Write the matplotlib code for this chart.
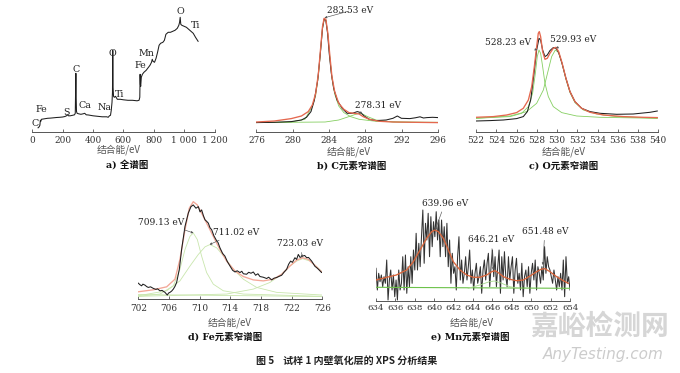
import numpy as np
import matplotlib
matplotlib.use("Agg")
import matplotlib.pyplot as plt

W, H = 680, 373

# ---------------- data ----------------
# a) survey spectrum
survey_ev = [38, 45, 50, 53, 56, 60, 80, 100, 120, 140, 160, 180, 200, 215, 225, 232, 238, 250, 265, 278,
             283, 285, 287, 289, 291, 295, 305, 320, 335, 345, 355, 370, 400, 430, 460, 490, 500, 508, 515,
             520, 525, 528, 530, 532, 535, 540, 548, 560, 580, 600, 630, 660, 690, 703, 708, 710, 712, 714,
             718, 725, 735, 750, 765, 775, 785, 790, 795, 805, 815, 825, 835, 845, 860, 870, 880, 895, 910,
             925, 940, 955, 965, 970, 974, 978, 985, 1000, 1015, 1030, 1045, 1060, 1075, 1092]
survey_int = [4.5, 5.5, 7, 12, 11, 13, 13.5, 14, 14.2, 14.5, 14.8, 15, 15.3, 15.8, 16.5, 17.5, 16.5, 16.5, 17, 17.5,
              19, 40, 59, 35, 21, 19, 18.5, 18, 18.5, 19, 17.5, 17.3, 16.5, 16, 15.5, 15.5, 15, 16.5, 17,
              22, 30, 40, 82, 45, 36, 35, 36, 33, 33, 32.5, 32, 32, 31.5, 32, 35, 58, 48, 46,
              55, 58, 60, 62, 65, 67, 70, 73, 71, 70, 74, 80, 87, 89, 90, 92, 98, 100, 100,
              101, 102, 104, 107, 110, 115, 108, 107, 106, 105, 103, 101, 99, 95, 91]
survey_ticks = [0, 200, 400, 600, 800, 1000, 1200]
survey_ticklabels = ["0", "200", "400", "600", "800", "1 000", "1 200"]
survey_labels = ["C", "Fe", "S", "C", "Ca", "Na", "O", "Ti", "Fe", "Mn", "O", "Ti"]
survey_label_ev = [18, 62, 227, 288, 347, 479, 529, 573, 711, 753, 973, 1072]
survey_label_int = [9, 22.3, 19.6, 62.3, 27.3, 25, 79, 38, 66.3, 79, 120.6, 107.3]

# b) C 1s
c_ev = [276, 277.98, 279.84, 280.96, 281.52, 282.01, 282.38, 282.75, 283.01, 283.28, 283.46, 283.65, 283.84,
        284.02, 284.25, 284.51, 284.88, 285.44, 286.0, 286.56, 287.12, 287.49, 287.87, 288.43, 289.17, 290.29,
        291.04, 291.52, 291.97, 292.9, 293.5, 294.02, 294.4, 294.77, 295.4, 296]
c_int = [9.7, 10, 10.7, 12.3, 15, 20.7, 32, 52, 75.7, 104, 113.3, 111.7, 99, 79, 59, 44, 32.3, 24, 19, 19,
         20.7, 19.7, 16.3, 13, 11.7, 12.3, 14, 16.3, 14, 13.7, 14.5, 15.5, 14.3, 14.7, 15, 14.7]
c_fit_ev = [276, 277.98, 279.84, 280.96, 281.71, 282.16, 282.53, 282.83, 283.09, 283.28, 283.46, 283.65, 283.87,
            284.10, 284.32, 284.62, 285.07, 285.63, 286.19, 286.75, 287.31, 287.75, 288.43, 289.54, 291.04,
            293.28, 296]
c_fit_int = [10.3, 11.3, 13.7, 16.3, 20.7, 27.3, 39, 59, 86, 105.7, 114, 113, 99, 75.7, 55.7, 40.7, 29, 23,
             19.7, 19, 18.3, 15.7, 13, 11, 10.3, 10, 9.7]
c_p1_ev = [276, 279.84, 281.34, 282.16, 282.53, 282.83, 283.09, 283.28, 283.46, 283.65, 283.87, 284.10, 284.32,
           284.62, 285.07, 285.63, 286.37, 287.31, 289.17, 291.78, 296]
c_p1_int = [9.7, 10.3, 13, 26, 37, 57, 84, 104, 113, 112.3, 98, 74, 54, 38.3, 26.3, 19.7, 15.7, 13, 11, 10.3, 10]
c_p2_ev = [276, 283.57, 285.07, 286.19, 286.93, 287.31, 287.68, 288.24, 289.17, 291.04, 293.28, 296]
c_p2_int = [9.7, 10.3, 12.3, 15.7, 18, 19, 18.3, 15.7, 12.3, 10.3, 10, 9.7]
c_ticks = [276, 280, 284, 288, 292, 296]
c_peaks = ["283.53 eV", "278.31 eV"]

# c) O 1s
o_ev = [522, 523.38, 524.7, 526.01, 526.67, 527.07, 527.4, 527.73, 527.99, 528.22, 528.38, 528.58, 528.81,
        529.04, 529.3, 529.63, 529.9, 530.16, 530.49, 530.88, 531.28, 531.77, 532.43, 533.25, 534.24, 535.89,
        537.53, 539.18, 539.9]
o_int = [11.3, 11.7, 12.3, 13.7, 15.7, 20.7, 32.3, 59, 82.3, 94, 92.3, 82.3, 75.7, 77.3, 81.7, 84.7, 84, 79.7,
         69, 54, 40.7, 30.7, 24, 20.7, 19, 18, 18.3, 20, 21.3]
o_fit_ev = [522, 523.71, 525.03, 526.01, 526.67, 527.17, 527.5, 527.76, 527.99, 528.15, 528.25, 528.38, 528.58,
            528.81, 529.04, 529.3, 529.63, 529.9, 530.16, 530.49, 530.88, 531.28, 531.77, 532.43, 533.25,
            534.57, 536.54, 538.52, 539.9]
o_fit_int = [15, 15.7, 17.3, 19.7, 24, 32.3, 45.7, 65.7, 85.7, 99, 100.7, 95.7, 80.7, 73, 74, 79, 84, 85, 80.7,
             69.7, 54, 40.7, 30.7, 24, 20, 17.3, 15.7, 15, 14.7]
o_p1_ev = [522, 525.36, 526.51, 527.17, 527.59, 527.86, 528.05, 528.22, 528.38, 528.58, 528.81, 529.14, 529.63,
           530.46, 531.94, 534.24, 539.9]
o_p1_int = [14, 15.7, 19, 25.7, 39, 59, 75.7, 82.3, 79, 65.7, 49, 35.7, 25.7, 19.7, 16.3, 15, 14]
o_p2_ev = [522, 525.36, 527.0, 527.99, 528.65, 529.14, 529.47, 529.83, 530.16, 530.49, 530.88, 531.28, 531.77,
           532.6, 533.91, 535.89, 539.9]
o_p2_int = [14, 16.3, 20.7, 29, 42.3, 62.3, 75.7, 82.3, 79.7, 69, 53, 39.7, 29.7, 22.3, 18.3, 15.7, 14]
o_ticks = [522, 524, 526, 528, 530, 532, 534, 536, 538, 540]
o_peaks = ["528.23 eV", "529.93 eV"]

# d) Fe 2p
fe_ev = [702, 702.2, 702.43, 702.6, 702.87, 703.1, 703.3, 703.6, 703.96, 704.3, 704.5, 704.83, 705.1, 705.48,
         705.78, 705.95, 706.13, 706.35, 706.57, 706.78, 707, 707.35, 707.65, 708.09, 708.52, 708.87, 709.17,
         709.52, 709.83, 710.05, 710.26, 710.5, 710.7, 710.91, 711.13, 711.35, 711.57, 711.85, 712.13, 712.4,
         712.65, 713.0, 713.3, 713.6, 713.96, 714.3, 714.61, 714.9, 715.26, 715.5, 715.7, 716.13, 716.4, 716.7,
         717, 717.3, 717.6, 717.87, 718.3, 718.74, 719.0, 719.39, 719.7, 720.04, 720.4, 720.7, 721.0, 721.35,
         721.6, 721.87, 722.1, 722.43, 722.65, 722.87, 723.1, 723.43, 723.7, 723.96, 724.2, 724.61, 724.8,
         725.04, 725.26, 725.5, 725.91, 726]
fe_int = [16, 14.5, 13.3, 15, 14, 12.5, 11.7, 12.3, 10.7, 9.7, 10.3, 8.3, 8.7, 6.7, 4, 6, 6.7, 8, 10, 12.7,
          16.7, 30, 50, 73.3, 86.7, 93.3, 95, 91.7, 93.3, 88, 90, 84, 80, 78.5, 76.7, 72, 70, 64, 60, 57, 51.7,
          46, 43.3, 38, 33.3, 29, 27.3, 28.5, 26.7, 28, 25.5, 25, 27, 26, 27.3, 24, 25.5, 22.7, 22, 20.7, 22,
          19.3, 21, 21.7, 23, 24, 27, 30, 35, 38.3, 37, 41.7, 40, 45, 42, 43.3, 44, 41.7, 42, 38.3, 36, 33,
          31.7, 30, 26.7, 27]
fe_fit_ev = [702, 703.96, 705.7, 706.78, 707.43, 708.09, 708.65, 709.17, 709.7, 710.26, 710.91, 711.78, 712.65,
             713.52, 714.61, 715.7, 717.0, 718.3, 719.61, 720.7, 721.78, 722.65, 723.43, 724.17, 725.04, 726]
fe_fit_int = [7.3, 9.3, 12.3, 20, 40, 70, 91.7, 98.3, 95, 86.7, 76.7, 63.3, 50, 38.3, 28.3, 22.7, 19.3, 18.3,
              20, 25, 33.3, 39.3, 41.7, 40, 34, 26.7]
fe_p1_ev = [702, 704.83, 706.57, 707.43, 708.09, 708.74, 709.17, 709.7, 710.26, 710.91, 711.78, 713.09, 715.7, 726]
fe_p1_int = [2.7, 5, 13.3, 30, 50, 63.3, 66.7, 60, 43.3, 26.7, 15, 8.3, 5, 2.7]
fe_p2_ev = [702, 705.7, 707.43, 708.74, 709.83, 710.7, 711.35, 712.22, 713.3, 714.39, 715.7, 717.43, 720.04, 726]
fe_p2_int = [3.3, 8.3, 18.3, 33.3, 45, 52.7, 55, 51.7, 41.7, 30, 20, 11.7, 6.7, 4]
fe_p3_ev = [702, 713.52, 717.0, 719.17, 720.7, 721.78, 722.65, 723.43, 724.39, 725.26, 726]
fe_p3_int = [2.7, 5, 10, 16.7, 25, 33.3, 38.3, 40.7, 38.3, 32.7, 27.3]
fe_base_ev = [702, 726]
fe_base_int = [4.5, 2.5]
fe_ticks = [702, 706, 710, 714, 718, 722, 726]
fe_peaks = ["709.13 eV", "711.02 eV", "723.03 eV"]

# e) Mn 2p (noisy)
mn_int = [32.7, 11, 27.7, 19.3, 26, 14.3, 24.3, 17.7, 41, 1, 21, 31, 11, 26, 4.3, 21, 1, 31, 11, 17.7,
          44.3, 11, 46, 7.7, 34.3, 14.3, 44.3, 17.7, 51, 31, 67.7, 31, 57.7, 34.3, 64.3, 91, 37.7, 77.7, 61,
          87.7, 44.3, 84.3, 54.3, 79.3, 64.3, 89.3, 61, 81, 44.3, 81, 54.3, 74.3, 44.3, 77.7, 34.3, 61, 17.7,
          47.7, 27.7, 34.3, 11, 44.3, 64.3, 21, 41, 17.7, 27.7, 44.3, 21, 34.3, 51, 17.7, 31, 11, 27.7, 37.7,
          17.7, 24.3, 34.3, 7.7, 31, 41, 21, 37.7, 47.7, 14.3, 34.3, 51, 24.3, 44.3, 14.3, 34.3, 51, 7.7, 44.3,
          21, 49.3, 24.3, 14.3, 44.3, 21, 34.3, 44.3, 7.7, 31, 42.7, 17.7, 27.7, 11, 37.7, 4.3, 24.3, 31, 14.3,
          34.3, 7.7, 27.7, 37.7, 21, 41, 11, 34.3, 27.7, 17.7, 34.3, 21, 54.3, 27.7, 44.3, 34.3, 31, 24.3, 17.7,
          31, 21, 11, 24.3, 14.3, 27.7, 11, 41, 4.3, 44.3, 17.7, 24.3, 11]
mn_ev_start, mn_ev_end = 634, 654
mn_fit_ev = [634.0, 635.1, 636.1, 637.16, 637.85, 638.54, 639.22, 639.74, 640.08, 640.43, 640.94, 641.46, 641.97,
             642.66, 643.35, 644.04, 644.72, 645.41, 645.92, 646.27, 646.61, 647.13, 647.82, 648.5, 649.19,
             649.88, 650.56, 651.08, 651.42, 651.94, 652.62, 653.31, 653.83]
mn_fit_int = [21, 23.7, 26, 31, 39.3, 51, 62.7, 69.3, 71, 69.3, 62.7, 51, 39.3, 31, 26, 23.7, 23.7, 26, 29.3,
              30.3, 28.3, 24.3, 21.7, 20.3, 21, 25, 29.3, 32, 32.3, 29.3, 24.3, 20.3, 17.7]
mn_base_ev = [634, 654]
mn_base_int = [13.7, 12.7]
mn_p2_ev = [643.5, 644.7, 645.7, 646.2, 646.8, 647.8, 648.8]
mn_p2_int = [12.7, 16, 19.3, 20, 18.3, 14.3, 12.7]
mn_ticks = [634, 636, 638, 640, 642, 644, 646, 648, 650, 652, 654]
mn_peaks = ["639.96 eV", "646.21 eV", "651.48 eV"]

# ---------------- drawing ----------------
SERIF = "DejaVu Serif"
CJK = "Noto Sans CJK SC"
plt.rcParams["font.family"] = [SERIF, CJK]

fig = plt.figure(figsize=(W / 100, H / 100), dpi=100)


def rect(x0, x1, ytop, ybot):
    return [x0 / W, 1 - ybot / H, (x1 - x0) / W, (ybot - ytop) / H]


def style(ax, ticks, labels=None):
    for s in ("left", "right", "top"):
        ax.spines[s].set_visible(False)
    ax.spines["bottom"].set_color("#555555")
    ax.spines["bottom"].set_linewidth(0.7)
    ax.set_yticks([])
    ax.set_xticks(ticks)
    ax.set_xticklabels(labels if labels is not None else [str(t) for t in ticks])
    ax.tick_params(axis="x", direction="in", length=2, width=0.6, color="#555555",
                   labelsize=6.4, pad=2.5, labelcolor="#333333")
    ax.patch.set_alpha(0)


def ann(ax, txt, xy, xytext):
    ax.annotate(txt, xy=xy, xytext=xytext, fontsize=6.5, color="#222222", ha="center", va="center",
                annotation_clip=False,
                arrowprops=dict(arrowstyle="-|>", lw=0.45, color="#555555", mutation_scale=3,
                                shrinkA=1, shrinkB=0))


BLACK = "#1e1e1e"
RED = "#e5684f"
GREEN = "#86cf62"

# a) survey
axa = fig.add_axes(rect(32.3, 214.5, 10.3, 132.3))
axa.plot(survey_ev, survey_int, color=BLACK, lw=0.75)
axa.set_xlim(0, 1200)
axa.set_ylim(0, 122)
style(axa, survey_ticks, survey_ticklabels)
for lab, x, y in zip(survey_labels, survey_label_ev, survey_label_int):
    axa.text(x, y, lab, fontsize=6.8, ha="center", va="center", color="#222222", clip_on=False)

# b) C
axb = fig.add_axes(rect(256.4, 438.0, 10.3, 132.3))
axb.plot(c_p2_ev, c_p2_int, color=GREEN, lw=0.6)
axb.plot(c_p1_ev, c_p1_int, color=GREEN, lw=0.6)
axb.plot(c_ev, c_int, color=BLACK, lw=0.75)
axb.plot(c_fit_ev, c_fit_int, color=RED, lw=0.95)
axb.set_xlim(276, 296)
axb.set_ylim(0, 122)
style(axb, c_ticks)
ann(axb, c_peaks[0], (283.5, 114.5), (286.3, 121.5))
ann(axb, c_peaks[1], (287.3, 19), (289.4, 26.3))

# c) O
axc = fig.add_axes(rect(476.0, 658.3, 10.3, 132.3))
axc.plot(o_p1_ev, o_p1_int, color=GREEN, lw=0.6)
axc.plot(o_p2_ev, o_p2_int, color=GREEN, lw=0.6)
axc.plot(o_ev, o_int, color=BLACK, lw=0.75)
axc.plot(o_fit_ev, o_fit_int, color=RED, lw=0.95)
axc.set_xlim(522, 540)
axc.set_ylim(0, 122)
style(axc, o_ticks)
ann(axc, o_peaks[0], (528.05, 82.3), (525.2, 89.7))
ann(axc, o_peaks[1], (529.9, 84), (531.6, 92.3))

# d) Fe
PALE_G = "#c9e6ad"
PALE_R = "#f3a797"
axd = fig.add_axes(rect(138.3, 322.3, 200.0, 299.0))
axd.plot(fe_base_ev, fe_base_int, color=PALE_G, lw=0.6)
axd.plot(fe_p1_ev, fe_p1_int, color=PALE_G, lw=0.6)
axd.plot(fe_p2_ev, fe_p2_int, color=PALE_G, lw=0.6)
axd.plot(fe_p3_ev, fe_p3_int, color=PALE_G, lw=0.6)
axd.plot(fe_fit_ev, fe_fit_int, color=PALE_R, lw=0.95)
axd.plot(fe_ev, fe_int, color=BLACK, lw=0.75)
axd.set_xlim(702, 726)
axd.set_ylim(0, 100)
style(axd, fe_ticks)
axd.tick_params(axis="x", pad=3.5)
ann(axd, fe_peaks[0], (709.2, 66.7), (705.0, 77.7))
ann(axd, fe_peaks[1], (711.3, 55), (714.8, 67.3))
ann(axd, fe_peaks[2], (723.4, 42), (723.1, 55.7))

# e) Mn
mn_ev = np.linspace(mn_ev_start, mn_ev_end, len(mn_int))
axe = fig.add_axes(rect(376.0, 570.0, 201.0, 301.0))
axe.plot(mn_ev, mn_int, color="#333333", lw=0.75)
axe.plot(mn_base_ev, mn_base_int, color="#6cc24a", lw=0.8)
axe.plot(mn_p2_ev, mn_p2_int, color="#a8d98e", lw=0.6)
axe.plot(mn_fit_ev, mn_fit_int, color="#d9653b", lw=0.95)
axe.set_xlim(634, 654)
axe.set_ylim(0, 100)
style(axe, mn_ticks)
axe.tick_params(axis="x", labelsize=6.1, pad=2.5)
ann(axe, mn_peaks[0], (640.1, 71), (641.1, 97.7))
ann(axe, mn_peaks[1], (646.1, 31), (645.9, 61))
ann(axe, mn_peaks[2], (651.2, 36), (651.4, 69.3))

# axis titles and sub-captions
def ftext(px, py, s, **kw):
    fig.text(px / W, 1 - py / H, s, ha="center", va="center", **kw)

xl = dict(fontsize=7, color="#555555", family=[CJK])
for px, py in [(118.3, 150), (348.3, 151.5), (563.3, 151.5), (230, 323), (471.7, 323)]:
    ftext(px, py, "结合能/eV", **xl)

cap = dict(fontsize=6.8, color="#111111", fontweight="bold", family=[SERIF, CJK])
ftext(126.7, 165.5, "a) 全谱图", **cap)
ftext(351.7, 165.5, "b) C元素窄谱图", **cap)
ftext(563.3, 165.5, "c) O元素窄谱图", **cap)
ftext(225, 337, "d) Fe元素窄谱图", **cap)
ftext(470, 337, "e) Mn元素窄谱图", **cap)

ftext(347, 362, "图 5    试样 1 内壁氧化层的 XPS 分析结果", fontsize=7.2, fontweight="bold",
      color="#222222", family=[CJK, SERIF])

# watermark
ftext(600, 327, "嘉峪检测网", fontsize=20, fontweight="bold", color="#d6d6d6", family=[CJK])
ftext(603, 355, "AnyTesting.com", fontsize=11, style="italic", color="#cccccc", family=["DejaVu Sans"])

fig.savefig("out.png", dpi=100)
